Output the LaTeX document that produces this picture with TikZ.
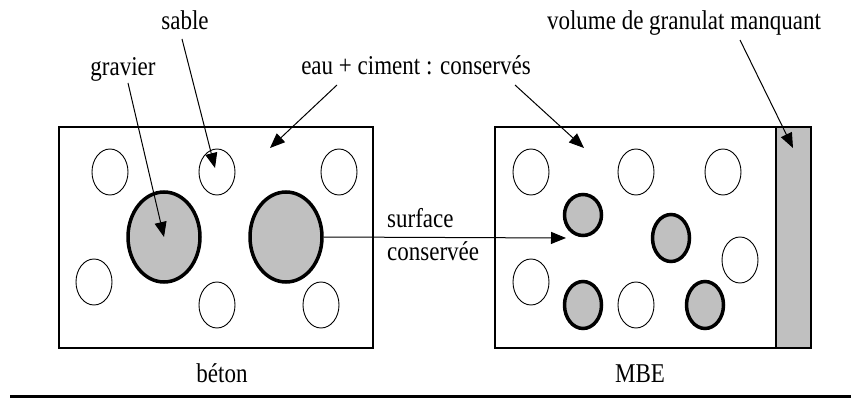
\documentclass[tikz,border=0pt]{standalone}
\usepackage{fontspec}
\setmainfont{Liberation Serif}
\usetikzlibrary{shapes.geometric,arrows.meta}
\definecolor{grain}{HTML}{C0C0C0}
\tikzset{
  lbl/.style={font=\fontsize{23}{26}\selectfont, inner sep=0pt, anchor=base, yscale=1.18, transform shape},
  sand/.style={ellipse, draw, line width=0.9pt, minimum width=36pt, minimum height=46pt, inner sep=0pt},
  gravel/.style={ellipse, draw, fill=grain, line width=3.5pt, minimum width=72pt, minimum height=90pt, inner sep=0pt},
  pebble/.style={ellipse, draw, fill=grain, line width=3.5pt, minimum width=37pt, minimum height=47pt, inner sep=0pt},
  box/.style={draw, line width=1.3pt, inner sep=0pt},
  arr/.style={line width=1pt, -{Triangle[length=15pt,width=12pt]}}
}
\begin{document}
\begin{tikzpicture}[x=1pt,y=-1pt]
\useasboundingbox (0,0) rectangle (851,398);
% boxes
\node[box, minimum width=314pt, minimum height=221pt] (beton) at (216,237.5) {};
\node[box, minimum width=316pt, minimum height=221pt] (mbe) at (653,237.5) {};
\draw[line width=1.3pt, fill=grain] (776,127) rectangle (811,348);
% left box grains
\node[sand] (s1) at (110,172) {};
\node[sand] (s2) at (217,172) {};
\node[sand] (s3) at (339,172) {};
\node[sand] (s4) at (94,282) {};
\node[sand] (s5) at (217,305) {};
\node[sand] (s6) at (321,305) {};
\node[gravel] (g1) at (164,237) {};
\node[gravel] (g2) at (286,237) {};
% right box grains
\node[sand] (m1) at (531,172) {};
\node[sand] (m2) at (636,172) {};
\node[sand] (m3) at (723,172) {};
\node[sand] (m4) at (740,260) {};
\node[sand] (m5) at (531,282) {};
\node[sand] (m6) at (636,305) {};
\node[pebble, minimum height=41pt] (p1) at (583,215) {};
\node[pebble] (p2) at (671,238) {};
\node[pebble] (p3) at (583,305) {};
\node[pebble] (p4) at (705,305) {};
% labels
\node[lbl] (lsable) at (185,30) {sable};
\node[lbl] (lgravier) at (123,76) {gravier};
\node[lbl] (leau) at (416,75) {eau + ciment : conservés};
\node[lbl] (lvol) at (684,30) {volume de granulat manquant};
\node[lbl, anchor=base west] (lsurf) at (387,227) {surface};
\node[lbl, anchor=base west] (lcons) at (387,260) {conservée};
\node[lbl] (lbeton) at (222,382) {béton};
\node[lbl] (lmbe) at (640,382) {MBE};
% arrow tips
\coordinate (tsable) at (215,168);
\coordinate (teau) at (270,148);
\coordinate (tcons) at (584,148);
\coordinate (tvol) at (793,148);
\coordinate (tsurf) at (566,238);
\coordinate (fsable) at (182,39);
\coordinate (fgrav) at (128,83);
\coordinate (feau) at (337,85);
\coordinate (fcons) at (515,85);
\coordinate (fvol) at (740,40);
% arrows
\draw[arr] (fsable) -- (tsable);
\draw[arr] (fgrav) -- (g1.center);
\draw[arr] (feau) -- (teau);
\draw[arr] (fcons) -- (tcons);
\draw[arr] (fvol) -- (tvol);
\draw[arr] (g2.east) -- (tsurf);
% bottom rule
\coordinate (ruleA) at (10,396.5);
\coordinate (ruleB) at (851,396.5);
\draw[line width=3pt] (ruleA) -- (ruleB);
\end{tikzpicture}
\end{document}
